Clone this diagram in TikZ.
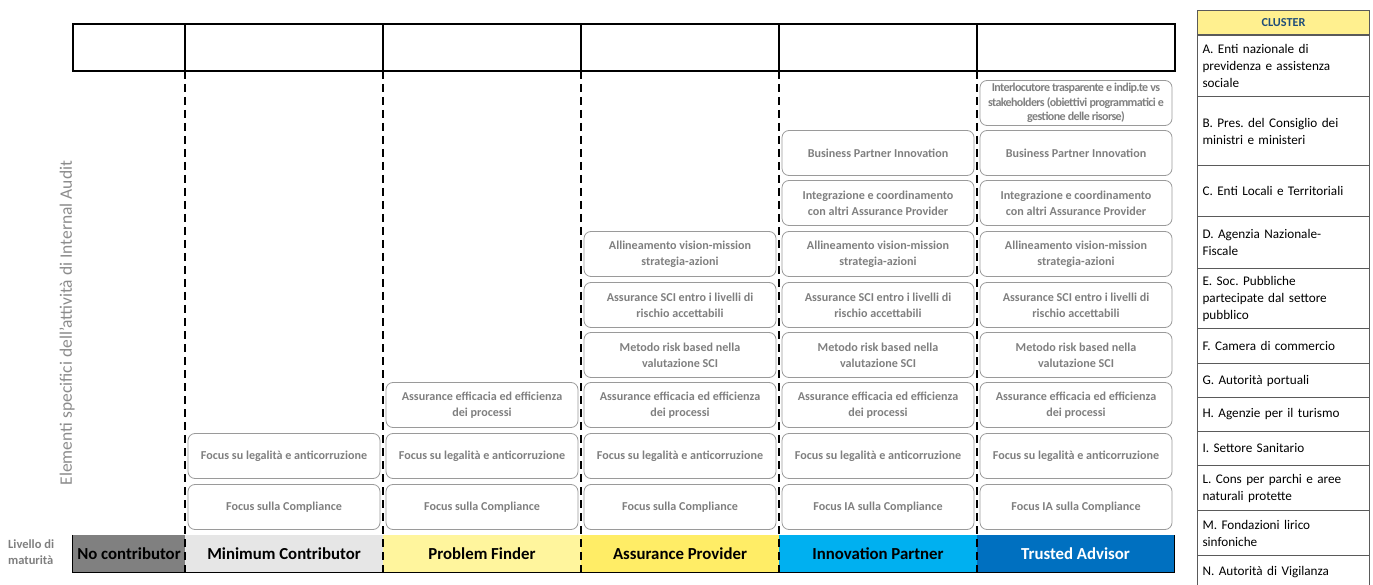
\documentclass[tikz,border=0pt]{standalone}
\usepackage{fontspec}
\setmainfont{Carlito}
\frenchspacing
\definecolor{boxgray}{HTML}{9A9A9A}
\definecolor{txtgray}{HTML}{7F7F7F}
\definecolor{labgray}{HTML}{8C8C8C}
\definecolor{nocol}{HTML}{808080}
\definecolor{mincol}{HTML}{E6E6E6}
\definecolor{pfcol}{HTML}{FFF59D}
\definecolor{apcol}{HTML}{FFED66}
\definecolor{ipcol}{HTML}{00B0F0}
\definecolor{tacol}{HTML}{0070C0}
\definecolor{clhead}{HTML}{FFF08F}
\definecolor{clblue}{HTML}{1F4E79}
\definecolor{clline}{HTML}{5A5A5A}
\begin{document}
\begin{tikzpicture}[x=1pt,y=-1pt,
  box/.style={draw=boxgray, rounded corners=7pt, line width=0.8pt,
    minimum width=192pt, minimum height=45pt, align=center,
    font=\bfseries\fontsize{12.1}{16}\selectfont, text=txtgray, inner sep=1pt},
  bar/.style={minimum width=#1, minimum height=37pt, inner sep=0pt,
    font=\bfseries\fontsize{16.8}{18}\selectfont},
  clrow/.style={draw=clline, line width=1pt, minimum width=172pt, inner sep=0pt,
    anchor=north west, text width=162pt, align=left,
    font=\fontsize{13.2}{17}\selectfont, text=black},
  grid/.style={line width=1.3pt, black},
  dashline/.style={dash pattern=on 8pt off 5pt, line width=1.1pt, black}]
\useasboundingbox (0,0) rectangle (1373,585);

% header row
\draw[grid] (73,24) rectangle (1175,71);
\foreach \x in {185,383,581,779,977} \draw[grid] (\x,24) -- (\x,71);

% maturity bar
\node[bar=112pt, fill=nocol] (nc) at (129,553.5) {No contributor};
\node[bar=198pt, fill=mincol] (mc) at (284,553.5) {Minimum Contributor};
\node[bar=198pt, fill=pfcol] (pf) at (482,553.5) {Problem Finder};
\node[bar=198pt, fill=apcol] (ap) at (680,553.5) {Assurance Provider};
\node[bar=198pt, fill=ipcol] (ip) at (878,553.5) {Innovation Partner};
\node[bar=197pt, fill=tacol, text=white] (ta) at (1075.5,553.5) {Trusted Advisor};
\draw[grid] (nc.north west) -- (nc.south west) -- (ta.south east) -- (ta.north east);

% dashed column separators
\foreach \x in {185,383,581,779,977} \draw[dashline] (\x,71) -- (\x,572);

% boxes
% Minimum contributor
\node[box] (m1) at (284,507) {Focus sulla Compliance};
\node[box] (m2) at (284,456) {Focus su legalità e anticorruzione};
% Problem finder
\node[box] (p1) at (482,507) {Focus sulla Compliance};
\node[box] (p2) at (482,456) {Focus su legalità e anticorruzione};
\node[box] (p3) at (482,405) {Assurance efficacia ed efficienza\\dei processi};
% Assurance provider
\node[box] (a1) at (680,507) {Focus sulla Compliance};
\node[box] (a2) at (680,456) {Focus su legalità e anticorruzione};
\node[box] (a3) at (680,405) {Assurance efficacia ed efficienza\\dei processi};
\node[box] (a4) at (680,355) {Metodo risk based nella\\valutazione SCI};
\node[box] (a5) at (680,305) {Assurance SCI entro i livelli di\\rischio accettabili};
\node[box] (a6) at (680,254) {Allineamento vision-mission\\strategia-azioni};
% Innovation partner
\node[box] (i1) at (878,507) {Focus IA sulla Compliance};
\node[box] (i2) at (878,456) {Focus su legalità e anticorruzione};
\node[box] (i3) at (878,405) {Assurance efficacia ed efficienza\\dei processi};
\node[box] (i4) at (878,355) {Metodo risk based nella\\valutazione SCI};
\node[box] (i5) at (878,305) {Assurance SCI entro i livelli di\\rischio accettabili};
\node[box] (i6) at (878,254) {Allineamento vision-mission\\strategia-azioni};
\node[box] (i7) at (878,203) {Integrazione e coordinamento\\con altri Assurance Provider};
\node[box] (i8) at (878,153) {Business Partner Innovation};
% Trusted advisor
\node[box] (t1) at (1076,507) {Focus IA sulla Compliance};
\node[box] (t2) at (1076,456) {Focus su legalità e anticorruzione};
\node[box] (t3) at (1076,405) {Assurance efficacia ed efficienza\\dei processi};
\node[box] (t4) at (1076,355) {Metodo risk based nella\\valutazione SCI};
\node[box] (t5) at (1076,305) {Assurance SCI entro i livelli di\\rischio accettabili};
\node[box] (t6) at (1076,254) {Allineamento vision-mission\\strategia-azioni};
\node[box] (t7) at (1076,203) {Integrazione e coordinamento\\con altri Assurance Provider};
\node[box] (t8) at (1076,153) {Business Partner Innovation};
\node[box, font=\bfseries\fontsize{12}{14.5}\selectfont\addfontfeature{LetterSpace=-5}] (t9) at (1076,103)
  {Interlocutore trasparente e indip.te vs\\stakeholders (obiettivi programmatici e\\gestione delle risorse)};

% left labels
\node[rotate=90, text=labgray, font=\fontsize{17.5}{19}\selectfont] (ylab) at (67,323)
  {Elementi specifici dell’attività di Internal Audit};
\node[text=txtgray, font=\bfseries\fontsize{12.5}{16}\selectfont, align=left, anchor=west, inner sep=0pt] (liv) at (8,552)
  {Livello di\\maturità};

% cluster table
\node[clrow, fill=clhead, minimum height=24pt, align=center, text=clblue,
  font=\bfseries\fontsize{12.2}{14}\selectfont] (ch) at (1197,10) {CLUSTER};
\draw[clline, line width=2.2pt] (ch.south west) -- (ch.south east);
\node[clrow, minimum height=61pt] (cA) at (1197,35) {A. Enti nazionale di\\previdenza e assistenza\\sociale};
\node[clrow, minimum height=69pt] (cB) at (1197,96) {B. Pres. del Consiglio dei\\ministri e ministeri};
\node[clrow, minimum height=51pt] (cC) at (1197,165) {C. Enti Locali e Territoriali};
\node[clrow, minimum height=52pt] (cD) at (1197,216) {D. Agenzia Nazionale-\\Fiscale};
\node[clrow, minimum height=60pt] (cE) at (1197,268) {E. Soc. Pubbliche\\partecipate dal settore\\pubblico};
\node[clrow, minimum height=35pt] (cF) at (1197,328) {F. Camera di commercio};
\node[clrow, minimum height=34pt] (cG) at (1197,363) {G. Autorità portuali};
\node[clrow, minimum height=34pt] (cH) at (1197,397) {H. Agenzie per il turismo};
\node[clrow, minimum height=34pt] (cI) at (1197,431) {I. Settore Sanitario};
\node[clrow, minimum height=45pt] (cL) at (1197,465) {L. Cons per parchi e aree\\naturali protette};
\node[clrow, minimum height=45pt] (cM) at (1197,510) {M. Fondazioni lirico\\sinfoniche};
\node[clrow, minimum height=34pt] (cN) at (1197,555) {N. Autorità di Vigilanza};
\end{tikzpicture}
\end{document}
